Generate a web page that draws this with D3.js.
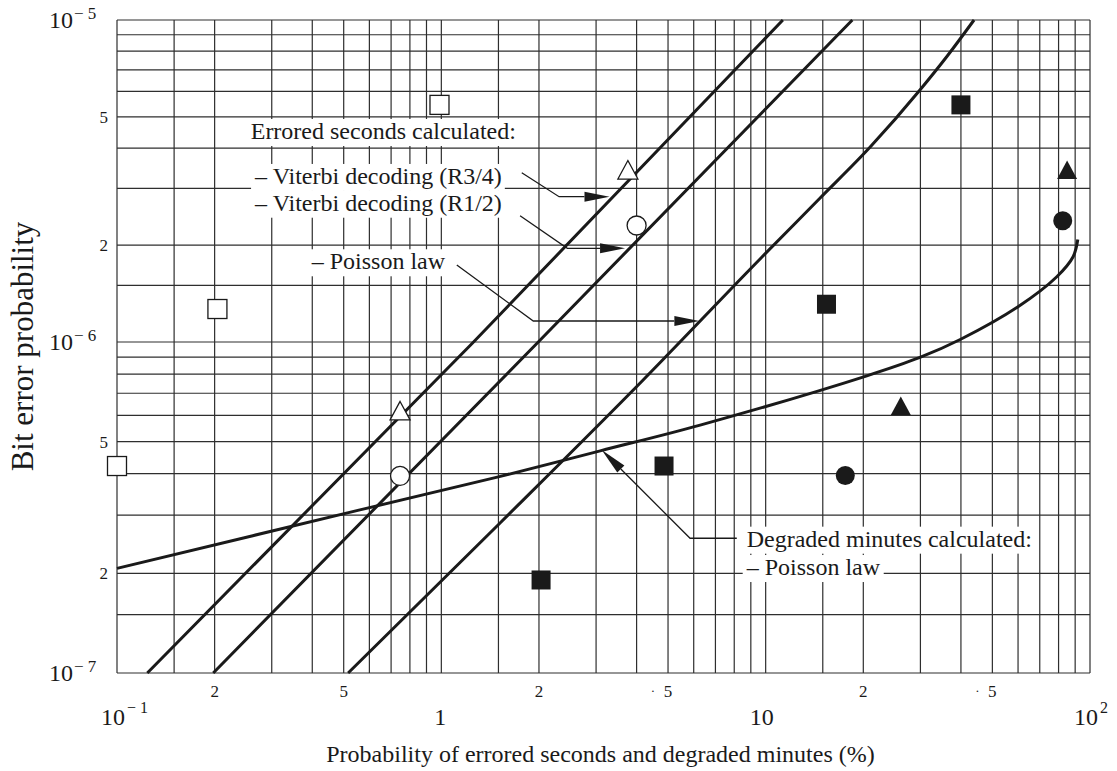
<!DOCTYPE html>
<html><head><meta charset="utf-8">
<script src="https://cdn.jsdelivr.net/npm/d3@7"></script>
<style>
body{margin:0;background:#fff}
svg{display:block}
text{font-family:"Liberation Serif","Times New Roman",serif;fill:#1a1a1a}
</style>
</head><body>
<svg id="chart" width="1117" height="771" font-family="'Liberation Serif', serif"></svg>
<script>
// ---------------- data ----------------
const xDecades = [0.1, 1, 10];
const xMax = 100;
const yDecades = [1e-7, 1e-6];
const yMax = 1e-5;
const gridMultipliers = [1, 1.5, 2, 3, 4, 5, 6, 7, 8, 9];
const minorLabelMultipliers = [2, 5];
const xDecadeTicks = [0.1, 1, 10, 100];
const xDecadeBase = ["10", "1", "10", "10"];
const xDecadeExp = ["− 1", "", "", "2"];
const xLabelDots = [5, 50];
const yDecadeTicks = [1e-7, 1e-6, 1e-5];
const yDecadeBase = ["10", "10", "10"];
const yDecadeExp = ["− 7", "− 6", "− 5"];

const xTitle = "Probability of errored seconds and degraded minutes (%)";
const yTitle = "Bit error probability";

// calculated curves [x %, BER]
const viterbiR34 = [[0.124, 1e-7], [1.257, 1e-6], [11.3, 1e-5]];
const viterbiR12 = [[0.198, 1e-7], [1.99, 1e-6], [18.5, 1e-5]];
const poissonES = [[0.516, 1e-7], [1.52, 2.845e-7], [4.19, 7.68e-7], [9.61, 1.811e-6],
  [14.72, 2.80e-6], [21.0, 4.03e-6], [29.9, 6.06e-6], [36.3, 7.73e-6], [43.9, 1e-5]];
const poissonDM = [[0.1, 2.07e-7], [0.561, 3.11e-7], [1.51, 3.92e-7], [3.09, 4.69e-7],
  [6.28, 5.61e-7], [20.4, 7.89e-7], [29.9, 8.98e-7], [39.8, 1.018e-6], [60.0, 1.287e-6],
  [79.0, 1.595e-6], [88.7, 1.84e-6], [91.7, 2.08e-6]];

// measured points
const openSquares = [[0.1, 4.22e-7], [0.204, 1.266e-6], [0.987, 5.45e-6]];
const openTriangles = [[0.746, 6.19e-7], [3.76, 3.42e-6]];
const openCircles = [[0.746, 3.94e-7], [4.0, 2.30e-6]];
const filledSquares = [[2.03, 1.91e-7], [4.86, 4.22e-7], [15.4, 1.31e-6], [40.0, 5.45e-6]];
const filledTriangles = [[26.1, 6.41e-7], [85.0, 3.42e-6]];
const filledCircles = [[17.6, 3.95e-7], [82.4, 2.38e-6]];

// annotations
const annotationTexts = ["Errored seconds calculated:", "– Viterbi decoding (R3/4)",
  "– Viterbi decoding (R1/2)", "– Poisson law", "Degraded minutes calculated:", "– Poisson law"];
const annotationAnchors = [[0.2584, 4.27e-6], [0.2665, 3.096e-6], [0.2665, 2.557e-6],
  [0.3985, 1.682e-6], [8.74, 2.408e-7], [8.74, 1.977e-7]];
const leaderR34 = [[1.770, 3.355e-6], [2.307, 2.827e-6], [3.30, 2.827e-6]];
const leaderR12 = [[1.749, 2.467e-6], [2.446, 1.954e-6], [3.686, 1.954e-6]];
const leaderPoissonES = [[1.116, 1.734e-6], [1.921, 1.162e-6], [6.245, 1.162e-6]];
const leaderPoissonDM = [[8.146, 2.553e-7], [5.846, 2.553e-7], [3.123, 4.72e-7]];

// ---------------- drawing ----------------
const ink = "#1a1a1a";
const svg = d3.select("#chart");
const x = d3.scaleLog().domain([0.1, 100]).range([117, 1090]);
const y = d3.scaleLog().domain([1e-7, 1e-6, 1e-5]).range([673, 342, 20]);

const xGrid = xDecades.flatMap(d => gridMultipliers.map(m => d * m)).concat([xMax]);
const yGrid = yDecades.flatMap(d => gridMultipliers.map(m => d * m)).concat([yMax]);

const grid = svg.append("g");
grid.selectAll("line.vx").data(xGrid).join("line")
  .attr("x1", d => x(d)).attr("x2", d => x(d))
  .attr("y1", y(1e-7)).attr("y2", y(1e-5))
  .attr("stroke", "#2e2e2e").attr("stroke-width", 1.2);
grid.selectAll("line.hy").data(yGrid).join("line")
  .attr("x1", x(0.1)).attr("x2", x(100))
  .attr("y1", d => y(d)).attr("y2", d => y(d))
  .attr("stroke", "#2e2e2e").attr("stroke-width", 1.2);

// axis tick labels
const axes = svg.append("g");
xDecades.forEach(d => minorLabelMultipliers.forEach(m => {
  axes.append("text").attr("x", x(d * m)).attr("y", y(1e-7) + 24)
    .attr("text-anchor", "middle").attr("font-size", 17).text(m);
}));
xLabelDots.forEach(v => {
  axes.append("text").attr("x", x(v) - 15).attr("y", y(1e-7) + 22)
    .attr("text-anchor", "middle").attr("font-size", 13).text("·");
});
yDecades.forEach(d => minorLabelMultipliers.forEach(m => {
  axes.append("text").attr("x", x(0.1) - 9).attr("y", y(d * m)).attr("dy", "0.35em")
    .attr("text-anchor", "end").attr("font-size", 17).text(m);
}));
xDecadeTicks.forEach((v, i) => {
  const base = axes.append("text").attr("x", x(v) - (xDecadeBase[i] === "1" ? 1 : 4))
    .attr("y", y(1e-7) + 52).attr("text-anchor", "middle").attr("font-size", 24)
    .text(xDecadeBase[i]);
  if (xDecadeExp[i]) {
    const b = base.node().getBBox();
    axes.append("text").attr("x", b.x + b.width + 2).attr("y", y(1e-7) + 40)
      .attr("font-size", 16).text(xDecadeExp[i]);
  }
});
yDecadeTicks.forEach((v, i) => {
  axes.append("text").attr("x", x(0.1) - 44).attr("y", y(v)).attr("dy", "0.35em")
    .attr("text-anchor", "end").attr("font-size", 24).text(yDecadeBase[i]);
  axes.append("text").attr("x", x(0.1) - 43).attr("y", y(v) - 1)
    .attr("font-size", 17).text(yDecadeExp[i]);
});

// axis titles
svg.append("text").attr("x", (x(0.1) + x(100)) / 2 - 3).attr("y", 762)
  .attr("text-anchor", "middle").attr("font-size", 24).text(xTitle);
svg.append("text").attr("transform", `translate(33,${(y(1e-7) + y(1e-5)) / 2})rotate(-90)`)
  .attr("text-anchor", "middle").attr("font-size", 31).text(yTitle);

// annotation texts with white backgrounds
const ann = svg.append("g");
annotationTexts.forEach((t, i) => {
  const [ax, ay] = annotationAnchors[i];
  const g = ann.append("g");
  const rect = g.append("rect").attr("fill", "#fff");
  const tx = g.append("text").attr("x", x(ax)).attr("y", y(ay)).attr("font-size", 24).text(t);
  const b = tx.node().getBBox();
  rect.attr("x", b.x - 3).attr("y", b.y + 1).attr("width", b.width + 6).attr("height", b.height + 1);
});

// curves
const line = d3.line().x(d => x(d[0])).y(d => y(d[1]));
const curves = svg.append("g").attr("fill", "none").attr("stroke", ink)
  .attr("stroke-width", 3).attr("stroke-linejoin", "round");
curves.append("path").attr("d", line.curve(d3.curveLinear)(viterbiR34));
curves.append("path").attr("d", line.curve(d3.curveLinear)(viterbiR12));
curves.append("path").attr("d", line.curve(d3.curveMonotoneX)(poissonES));
curves.append("path").attr("d", line.curve(d3.curveCatmullRom.alpha(0.5))(poissonDM));

// leaders with arrowheads
const leaders = svg.append("g");
[leaderR34, leaderR12, leaderPoissonES, leaderPoissonDM].forEach((pts, i) => {
  const px = pts.map(p => [x(p[0]), y(p[1])]);
  const tip = px[px.length - 1], prev = px[px.length - 2];
  const dx = tip[0] - prev[0], dy = tip[1] - prev[1];
  const len = Math.hypot(dx, dy), ux = dx / len, uy = dy / len;
  const L = i === 3 ? 27 : 25, Wd = 5;
  const base = [tip[0] - ux * L, tip[1] - uy * L];
  leaders.append("path")
    .attr("d", d3.line()(px.slice(0, -1).concat([base])))
    .attr("fill", "none").attr("stroke", ink).attr("stroke-width", 1.3);
  leaders.append("path")
    .attr("d", `M${tip[0]},${tip[1]}L${base[0] - uy * Wd},${base[1] + ux * Wd}L${base[0] + uy * Wd},${base[1] - ux * Wd}Z`)
    .attr("fill", ink);
});

// markers
const mk = svg.append("g");
const S = 19;
function squares(data, filled) {
  mk.selectAll(null).data(data).join("rect")
    .attr("x", d => x(d[0]) - S / 2).attr("y", d => y(d[1]) - S / 2)
    .attr("width", S).attr("height", S)
    .attr("fill", filled ? ink : "#fff").attr("stroke", ink).attr("stroke-width", filled ? 0 : 1.3);
}
function circles(data, filled) {
  mk.selectAll(null).data(data).join("circle")
    .attr("cx", d => x(d[0])).attr("cy", d => y(d[1])).attr("r", 9.5)
    .attr("fill", filled ? ink : "#fff").attr("stroke", ink).attr("stroke-width", filled ? 0 : 1.3);
}
function triangles(data, filled) {
  mk.selectAll(null).data(data).join("path")
    .attr("d", d => {
      const cx = x(d[0]), cy = y(d[1]);
      return `M${cx},${cy - 9.5}L${cx + 10},${cy + 9}L${cx - 10},${cy + 9}Z`;
    })
    .attr("fill", filled ? ink : "#fff").attr("stroke", ink).attr("stroke-width", filled ? 0 : 1.3);
}
squares(openSquares, false); squares(filledSquares, true);
triangles(openTriangles, false); triangles(filledTriangles, true);
circles(openCircles, false); circles(filledCircles, true);
</script>
</body></html>
